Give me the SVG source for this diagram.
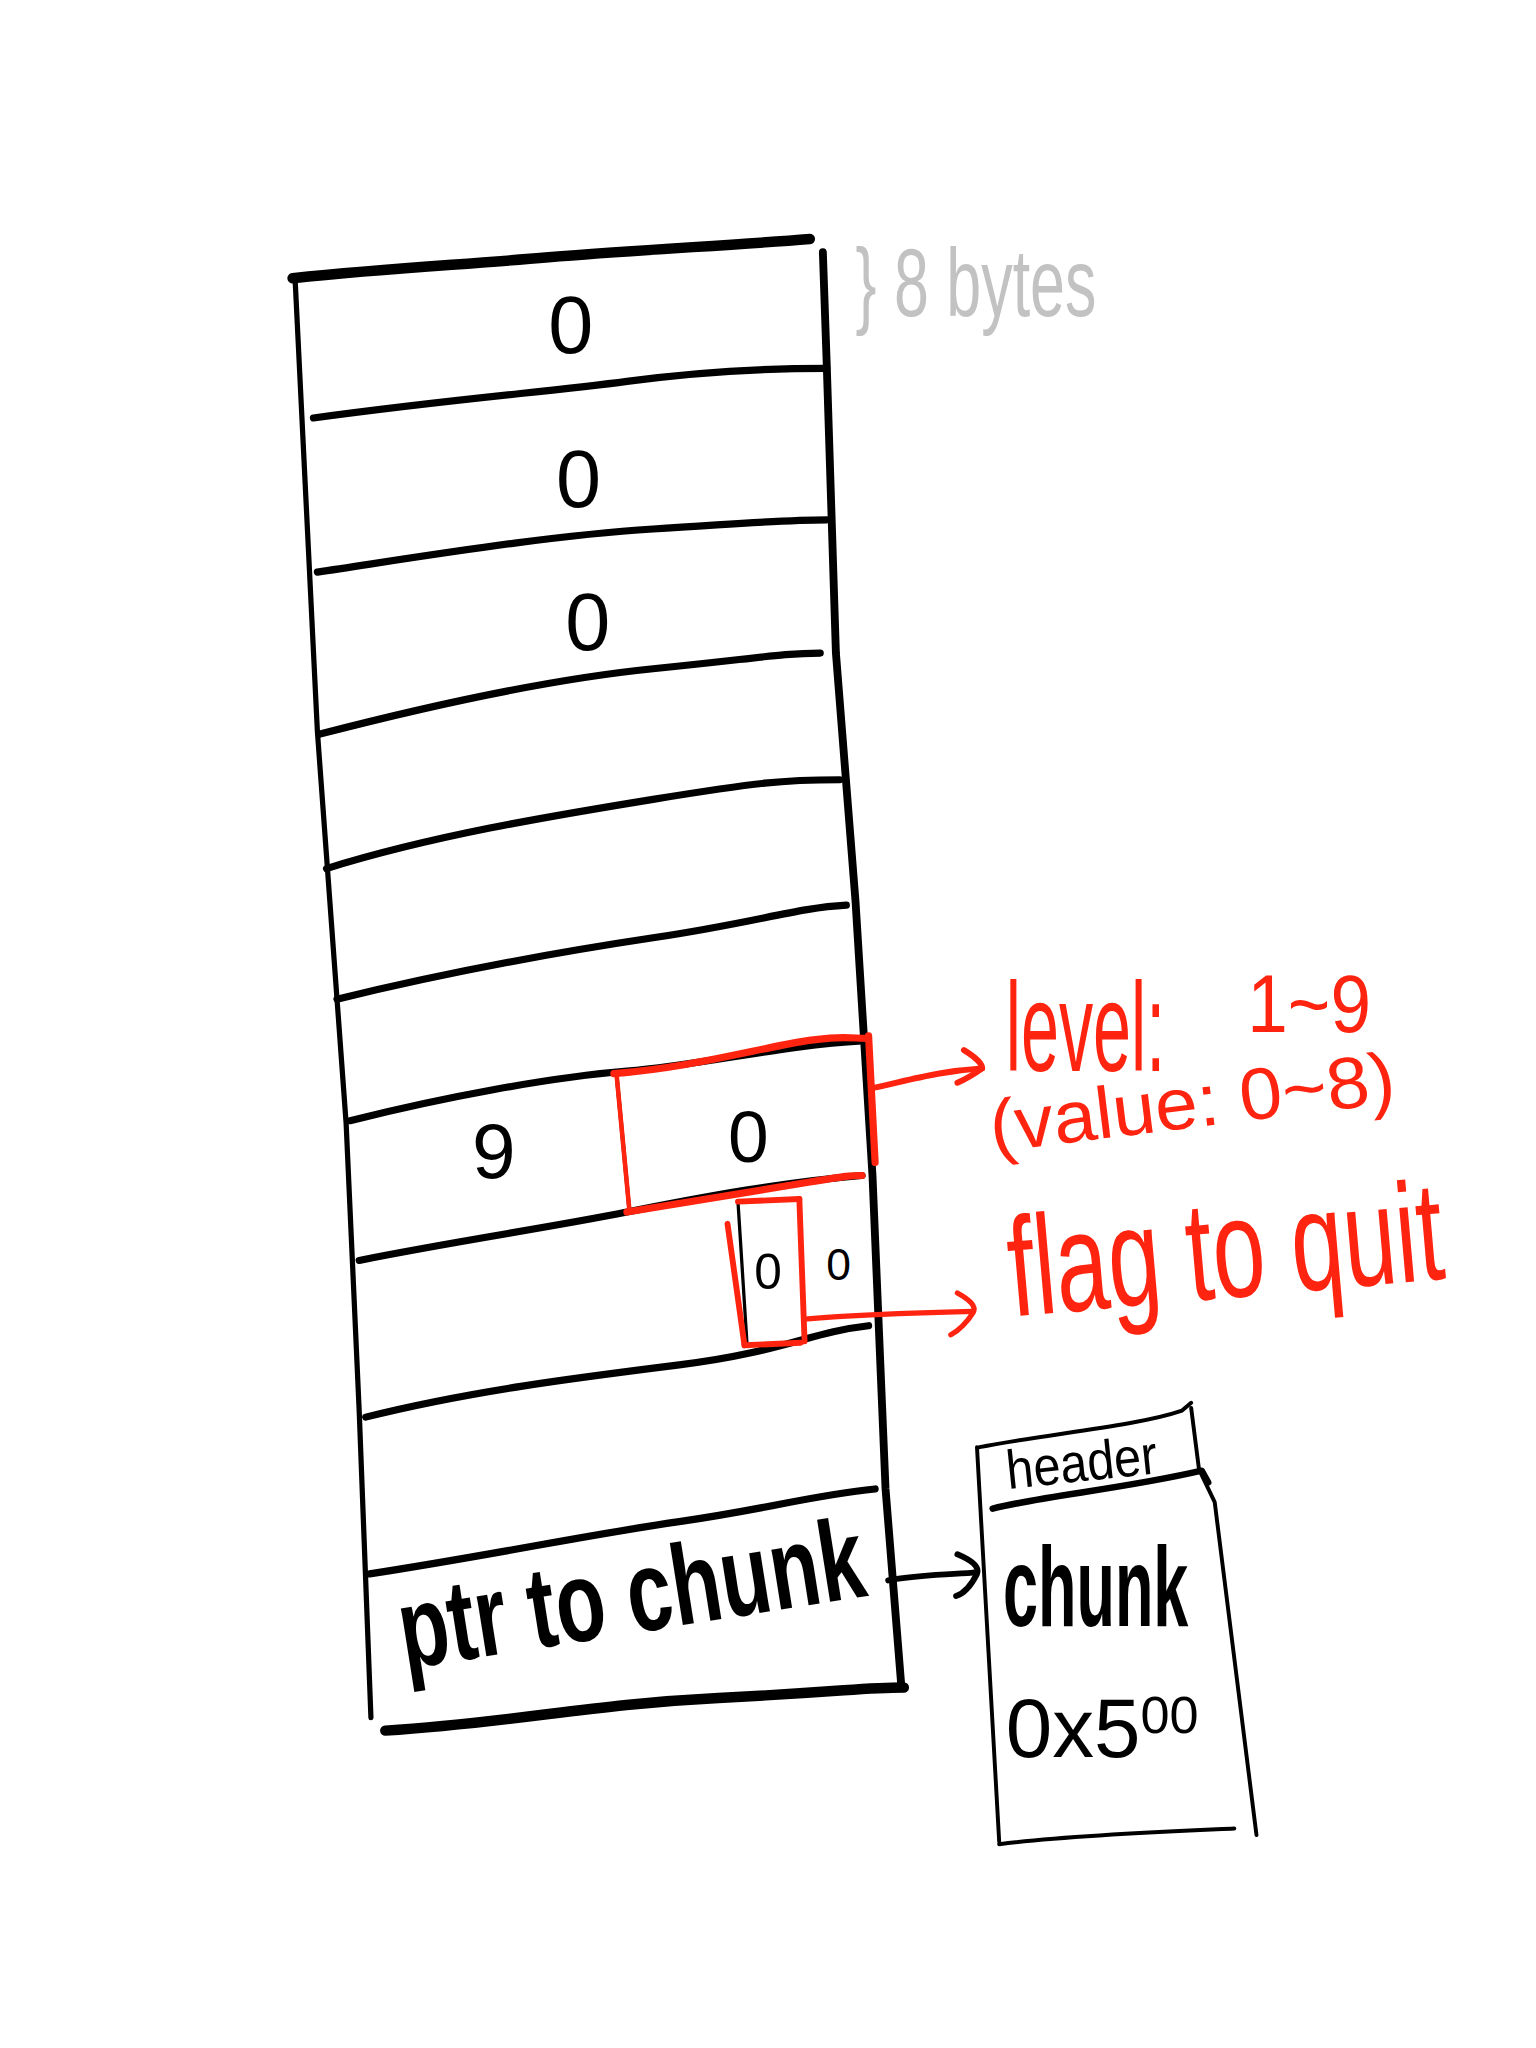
<svg xmlns="http://www.w3.org/2000/svg" width="1536" height="2048" viewBox="0 0 1536 2048">
<style>
.ln{fill:none;stroke:#000;stroke-linecap:round;stroke-linejoin:round}
.rd{fill:none;stroke:#ff2410;stroke-linecap:round;stroke-linejoin:round}
.tb{font-family:"Liberation Sans",Arial,sans-serif;fill:#000}
.tr{font-family:"Liberation Sans",Arial,sans-serif;fill:#ff2410}
.tg{font-family:"Liberation Sans",Arial,sans-serif;fill:#c2c2c2}
</style>
<rect width="1536" height="2048" fill="#fff"/>
<g transform="scale(1.30612)">
  <g id="memory-column">
    <path class="ln" stroke-width="8" d="M224,213 C300,205 350,203 420,197 S560,188 620,183"/>
    <path class="ln" stroke-width="4" d="M226,215 L243,560 L265,860 L275,1080 L284,1315"/>
    <path class="ln" stroke-width="6" d="M630,193 L633,280 L640,500 L655,690 L668,900 L678,1140 L690,1290"/>
    <path class="ln" stroke-width="8" d="M295,1325 C400,1318 450,1305 550,1300 S660,1292 692,1292"/>
    <path class="ln" stroke-width="5.5" d="M240,320 C350,305 420,300 480,292 S600,282 633,282"/>
    <path class="ln" stroke-width="5.5" d="M243,438 C330,425 420,410 500,405 S600,398 633,398"/>
    <path class="ln" stroke-width="5.5" d="M245,562 C330,540 420,520 500,512 S600,500 628,500"/>
    <path class="ln" stroke-width="5.5" d="M250,665 C330,640 420,625 500,612 S600,597 643,597"/>
    <path class="ln" stroke-width="5.5" d="M258,765 C340,745 420,730 500,718 S610,695 648,693"/>
    <path class="ln" stroke-width="5.5" d="M268,858 C340,840 420,825 480,820 S600,800 660,797"/>
    <path class="ln" stroke-width="5.5" d="M275,965 C350,950 420,940 480,928 S600,905 660,900"/>
    <path class="ln" stroke-width="5.5" d="M280,1085 C360,1065 440,1055 520,1045 S620,1020 665,1015"/>
    <path class="ln" stroke-width="5.5" d="M283,1205 C380,1190 450,1175 520,1165 S620,1145 670,1140"/>
    <path class="ln" stroke-width="3" d="M472,822 L482,928"/>
    <path class="ln" stroke-width="2.5" d="M565,920 L572,1030"/>
    <text class="tb" x="437" y="270" font-size="62" text-anchor="middle">0</text>
    <text class="tb" x="443" y="388" font-size="62" text-anchor="middle">0</text>
    <text class="tb" x="450" y="498" font-size="62" text-anchor="middle">0</text>
    <text class="tb" x="378" y="902" font-size="60" text-anchor="middle">9</text>
    <text class="tb" x="573" y="890" font-size="56" text-anchor="middle">0</text>
    <text class="tb" x="588" y="987" font-size="38" text-anchor="middle">0</text>
    <text class="tb" x="642" y="980" font-size="34" text-anchor="middle">0</text>
    <text class="tb" font-size="88" font-weight="bold" transform="translate(310,1278) rotate(-9) scale(0.708,1)">ptr to chunk</text>
  </g>
  <g id="size-note">
    <text class="tg" font-size="74" transform="translate(655,242) scale(0.65,1)">} 8 bytes</text>
  </g>
  <g id="level-box">
    <path class="rd" stroke-width="5.5" d="M470,822 C520,818 560,808 600,800 S650,795 665,795"/>
    <path class="rd" stroke-width="5.5" d="M665,793 L670,890"/>
    <path class="rd" stroke-width="5.5" d="M480,928 C540,918 590,910 620,905 S650,900 660,900"/>
    <path class="rd" stroke-width="3.5" d="M472,822 L482,928"/>
  </g>
  <g id="flag-box">
    <path class="rd" stroke-width="4.5" d="M557,937 L570,1030"/>
    <path class="rd" stroke-width="4.5" d="M565,920 L612,918"/>
    <path class="rd" stroke-width="4.5" d="M612,918 L616,1027"/>
    <path class="rd" stroke-width="4.5" d="M570,1030 L613,1028"/>
  </g>
  <g id="level-label">
    <text class="tr" font-size="96" transform="translate(770,820) scale(0.545,1)">level:</text>
    <text class="tr" font-size="62" transform="translate(955,790) scale(0.9,1)">1~9</text>
    <text class="tr" font-size="56" transform="translate(760,882) rotate(-7) scale(1.05,1)">(value: 0~8)</text>
  </g>
  <g id="flag-label">
    <text class="tr" font-size="108" transform="translate(775,1008) rotate(-5) scale(0.67,1)">flag to quit</text>
  </g>
  <g id="chunk">
    <path class="ln" stroke-width="3" d="M750,1108 C800,1098 870,1092 905,1080 L912,1074"/>
    <path class="ln" stroke-width="3" d="M748,1108 L765,1410"/>
    <path class="ln" stroke-width="3" d="M912,1078 L918,1125 L930,1150 L962,1405"/>
    <path class="ln" stroke-width="5" d="M760,1155 C800,1145 860,1140 920,1126 L925,1135"/>
    <path class="ln" stroke-width="3" d="M765,1412 C820,1405 900,1402 945,1400"/>
    <text class="tb" font-size="42" transform="translate(772,1140) rotate(-6) scale(0.886,1)">header</text>
    <text class="tb" font-size="86" font-weight="bold" transform="translate(768,1245) scale(0.56,1)">chunk</text>
    <text class="tb" x="770" y="1345" font-size="64">0x5<tspan font-size="40" dy="-18">00</tspan></text>
  </g>
  <g id="connectors">
    <path class="rd" stroke-width="4.5" d="M668,833 C700,826 720,820 752,818"/>
    <path class="rd" stroke-width="4.5" d="M738,804 C748,810 752,815 752,818 C745,823 740,826 733,829"/>
    <path class="rd" stroke-width="4" d="M616,1010 C660,1006 700,1005 745,1004"/>
    <path class="rd" stroke-width="4" d="M733,990 C742,995 748,1000 745,1005 C740,1013 735,1018 728,1022"/>
    <path class="ln" stroke-width="4.5" d="M680,1210 C700,1206 720,1206 745,1204"/>
    <path class="ln" stroke-width="4.5" d="M733,1190 C745,1195 750,1200 748,1205 C744,1213 738,1220 732,1222"/>
  </g>
</g>
</svg>
